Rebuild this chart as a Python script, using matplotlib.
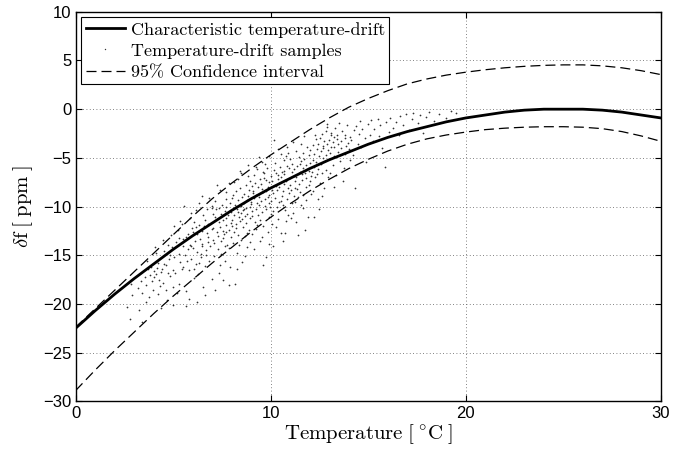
import matplotlib
matplotlib.use("Agg")
import matplotlib.pyplot as plt

plt.rcParams['mathtext.fontset'] = 'cm'
plt.rcParams['axes.unicode_minus'] = True

# values
temps = list(range(0, 31))
drift_fit = [-22.5, -20.7, -19.0, -17.4, -15.9, -14.4, -13.0, -11.7, -10.4, -9.2,
             -8.1, -7.1, -6.1, -5.2, -4.4, -3.6, -2.9, -2.3, -1.8, -1.3,
             -0.9, -0.6, -0.3, -0.1, 0.0, 0.0, 0.0, -0.1, -0.3, -0.6, -0.9]
ci_upper = [-22.4, -20.5, -18.6, -16.7, -14.8, -12.9, -11.0, -9.2, -7.6, -6.1,
            -4.7, -3.4, -2.1, -0.9, 0.2, 1.1, 1.9, 2.6, 3.1, 3.5,
            3.8, 4.05, 4.25, 4.4, 4.5, 4.55, 4.55, 4.45, 4.25, 3.95, 3.55]
ci_lower = [-28.9, -26.8, -24.8, -22.9, -21.0, -19.2, -17.5, -15.8, -14.2, -12.6,
            -11.1, -9.7, -8.4, -7.2, -6.1, -5.15, -4.3, -3.6, -3.05, -2.65,
            -2.35, -2.1, -1.95, -1.85, -1.8, -1.8, -1.85, -2.0, -2.3, -2.75, -3.3]

# sample cloud, (temperature, drift) pairs, grouped by temperature band
samples_2_4 = [(2.63,-20.3),(2.77,-21.5),(2.91,-19.1),(3.18,-18.4),(3.24,-20.6),(3.36,-17.6),(3.42,-18.9),
    (3.59,-19.8),(3.55,-17.2),(3.60,-18.1),(3.73,-16.4),(3.77,-19.3),(3.81,-17.0),(3.88,-16.2),(3.94,-17.6),
    (3.96,-18.6),(4.02,-16.6),(3.39,-21.9),(2.85,-18.0),(3.64,-15.6)]
samples_4_5 = [(4.03,-17.2),(4.17,-16.3),(4.11,-16.9),(4.28,-17.5),(4.24,-15.8),(4.36,-16.7),(4.32,-18.2),
    (4.49,-15.1),(4.45,-16.4),(4.50,-17.8),(4.53,-14.6),(4.67,-19.6),(4.61,-16.0),(4.78,-15.4),(4.74,-13.9),
    (4.86,-17.1),(4.82,-15.0),(4.99,-16.5),(4.95,-14.2),(5.00,-20.1),(4.23,-19.0),(4.47,-13.4),(4.61,-18.6),
    (4.88,-12.9),(4.14,-14.8),(4.36,-20.4),(4.72,-16.8),(4.99,-18.3),(4.55,-15.9),(4.06,-14.2)]
samples_5_6 = [(5.03,-15.2),(5.17,-13.6),(5.11,-16.8),(5.28,-14.9),(5.24,-12.4),(5.36,-15.7),(5.32,-17.9),
    (5.49,-14.1),(5.45,-11.8),(5.50,-16.2),(5.53,-13.3),(5.57,-9.9),(5.61,-15.0),(5.68,-18.7),(5.74,-14.4),
    (5.76,-12.8),(5.82,-16.5),(5.89,-13.9),(5.85,-11.2),(5.90,-15.4),(5.93,-14.0),(6.07,-17.3),(6.01,-12.6),
    (5.18,-18.9),(5.34,-11.5),(5.66,-20.2),(5.92,-10.7),(5.29,-13.2),(5.45,-16.4),(5.70,-15.6),(5.03,-12.0),
    (5.67,-13.1),(5.81,-19.5),(5.98,-12.2)]
samples_6_7 = [(6.04,-14.3),(6.06,-11.6),(6.12,-13.5),(6.19,-15.9),(6.15,-10.4),(6.20,-12.8),(6.23,-14.7),
    (6.27,-16.9),(6.31,-11.9),(6.38,-13.3),(6.34,-9.6),(6.46,-12.5),(6.42,-15.2),(6.49,-14.0),(6.55,-10.9),
    (6.50,-13.8),(6.53,-18.3),(6.57,-12.0),(6.61,-11.4),(6.68,-14.5),(6.64,-16.1),(6.76,-12.7),(6.72,-10.2),
    (6.79,-13.1),(6.85,-15.6),(6.80,-11.8),(6.83,-9.1),(6.97,-12.3),(6.91,-14.1),(6.98,-17.4),(7.04,-10.8),
    (7.06,-13.4),(6.22,-19.8),(6.49,-8.9),(6.65,-19.1),(6.80,-13.6),(6.33,-15.8),(6.17,-12.1),(6.71,-15.0),
    (6.98,-10.1),(6.44,-14.9),(6.06,-16.4)]
samples_7_8 = [(7.02,-12.2),(7.09,-15.1),(7.15,-11.1),(7.10,-13.7),(7.13,-9.4),(7.27,-12.6),(7.21,-10.3),
    (7.28,-14.4),(7.34,-11.6),(7.36,-16.8),(7.32,-13.0),(7.39,-8.3),(7.45,-10.8),(7.40,-12.1),(7.43,-14.9),
    (7.57,-11.4),(7.51,-9.8),(7.58,-13.2),(7.54,-17.5),(7.66,-10.5),(7.62,-12.8),(7.69,-11.9),(7.65,-15.6),
    (7.70,-9.2),(7.73,-11.2),(7.77,-13.9),(7.71,-10.0),(7.88,-12.4),(7.84,-14.3),(7.86,-7.6),(7.82,-10.9),
    (7.99,-11.7),(7.95,-13.1),(7.90,-9.6),(7.93,-16.2),(8.07,-10.3),(8.01,-12.0),(8.08,-8.8),(7.14,-18.6),
    (7.26,-7.8),(7.42,-16.0),(7.69,-8.5),(7.85,-18.1),(7.00,-9.9),(7.33,-10.1),(7.57,-12.5),(7.71,-12.6),
    (7.98,-10.6),(7.44,-13.5),(7.66,-14.1)]
samples_8_9 = [(8.02,-11.4),(8.09,-13.7),(8.15,-9.8),(8.10,-10.9),(8.13,-12.6),(8.17,-17.9),(8.21,-8.4),
    (8.28,-10.2),(8.24,-11.8),(8.26,-14.8),(8.32,-9.3),(8.39,-11.1),(8.35,-12.9),(8.30,-7.2),(8.33,-10.6),
    (8.47,-9.9),(8.41,-11.5),(8.48,-13.4),(8.44,-8.1),(8.56,-10.4),(8.52,-9.0),(8.59,-12.1),(8.55,-15.7),
    (8.50,-6.6),(8.63,-9.6),(8.67,-11.0),(8.61,-8.7),(8.68,-13.0),(8.74,-10.1),(8.76,-7.8),(8.72,-11.7),
    (8.79,-9.3),(8.85,-5.7),(8.80,-10.8),(8.83,-8.9),(8.87,-12.4),(8.81,-14.2),(8.98,-9.5),(8.94,-7.4),
    (8.96,-11.2),(8.92,-10.0),(9.09,-8.6),(9.05,-12.8),(9.00,-9.7),(8.13,-7.5),(8.27,-16.4),(8.41,-6.3),
    (8.68,-15.1),(8.84,-6.9),(8.36,-13.9),(8.52,-11.3),(8.79,-12.7),(8.95,-13.6),(8.00,-9.1),(8.23,-12.2),
    (8.47,-10.7),(8.61,-10.3),(8.88,-8.3)]
samples_9_10 = [(9.04,-10.5),(9.06,-7.9),(9.12,-9.1),(9.19,-11.6),(9.15,-6.8),(9.10,-8.4),(9.23,-10.2),
    (9.27,-12.3),(9.21,-7.6),(9.28,-9.6),(9.34,-8.0),(9.36,-10.9),(9.32,-6.1),(9.39,-9.0),(9.45,-11.4),
    (9.40,-8.7),(9.43,-7.2),(9.47,-13.5),(9.51,-9.4),(9.58,-5.4),(9.54,-8.2),(9.56,-10.6),(9.52,-7.7),
    (9.69,-9.9),(9.65,-6.6),(9.60,-12.0),(9.63,-8.5),(9.77,-7.3),(9.71,-9.2),(9.78,-10.3),(9.74,-15.2),
    (9.86,-8.0),(9.82,-6.0),(9.89,-11.1),(9.85,-9.0),(9.90,-7.5),(9.93,-8.8),(9.97,-10.0),(9.91,-4.8),
    (10.08,-8.3),(10.04,-6.9),(10.06,-11.8),(9.12,-14.4),(9.39,-4.9),(9.55,-13.1),(9.70,-5.6),(9.93,-13.8),
    (9.27,-8.8),(9.41,-9.8),(9.68,-7.1),(9.84,-12.6),(9.06,-11.0),(9.32,-11.9),(9.59,-6.4),(9.75,-8.4),
    (9.90,-9.6),(9.63,-16.0),(9.27,-5.9)]
samples_10_11 = [(10.01,-9.4),(10.08,-7.4),(10.14,-8.6),(10.16,-6.2),(10.12,-10.5),(10.19,-3.2),(10.25,-7.9),
    (10.20,-9.1),(10.23,-5.5),(10.27,-12.1),(10.31,-8.3),(10.38,-6.8),(10.34,-10.0),(10.36,-7.2),(10.42,-9.5),
    (10.49,-5.9),(10.45,-8.0),(10.40,-11.3),(10.53,-7.0),(10.57,-8.9),(10.51,-4.6),(10.58,-6.4),(10.54,-12.7),
    (10.66,-7.7),(10.62,-9.8),(10.69,-5.2),(10.65,-8.4),(10.70,-6.7),(10.73,-10.4),(10.77,-7.4),(10.71,-12.7),
    (10.88,-8.1),(10.84,-5.8),(10.86,-9.2),(10.82,-3.9),(10.99,-7.1),(10.95,-6.0),(10.90,-10.9),(10.93,-8.6),
    (11.07,-6.5),(11.01,-7.8),(11.08,-9.6),(10.14,-14.0),(10.36,-4.1),(10.62,-13.5),(10.89,-4.5),(10.25,-6.6),
    (10.43,-7.6),(10.67,-6.3),(10.81,-11.5),(10.98,-5.1),(10.04,-10.8),(10.52,-9.4),(10.79,-4.8)]
samples_11_12 = [(11.03,-8.3),(11.17,-6.9),(11.11,-5.6),(11.18,-8.9),(11.14,-10.7),(11.26,-7.4),(11.22,-6.1),
    (11.29,-4.3),(11.25,-9.5),(11.30,-7.0),(11.33,-5.8),(11.37,-8.2),(11.31,-11.6),(11.48,-6.4),(11.44,-4.9),
    (11.46,-7.7),(11.42,-9.0),(11.59,-6.7),(11.55,-5.3),(11.50,-8.5),(11.53,-3.6),(11.67,-6.0),(11.61,-7.3),
    (11.68,-10.1),(11.64,-4.5),(11.76,-6.6),(11.72,-5.1),(11.79,-8.0),(11.75,-12.4),(11.80,-5.7),(11.83,-7.1),
    (11.87,-3.9),(11.81,-9.3),(11.98,-6.3),(11.94,-4.7),(11.96,-7.8),(12.02,-5.5),(12.09,-6.9),(12.05,-8.7),
    (11.12,-3.4),(11.38,-12.9),(11.54,-9.8),(11.71,-2.8),(11.93,-11.1),(11.27,-8.1),(11.49,-5.6),(11.65,-8.8),
    (11.80,-6.2),(12.03,-4.2),(11.06,-11.2)]
samples_12_13 = [(12.04,-7.4),(12.16,-5.2),(12.12,-6.4),(12.19,-3.7),(12.15,-8.4),(12.20,-4.6),(12.23,-5.9),
    (12.27,-7.0),(12.21,-11.1),(12.38,-4.1),(12.34,-5.4),(12.36,-6.7),(12.32,-3.1),(12.49,-4.8),(12.45,-3.6),
    (12.40,-6.1),(12.43,-9.2),(12.57,-4.3),(12.51,-3.0),(12.58,-5.6),(12.54,-7.6),(12.66,-3.8),(12.62,-2.5),
    (12.69,-5.0),(12.65,-6.6),(12.70,-4.0),(12.73,-3.3),(12.77,-5.3),(12.71,-8.1),(12.88,-3.6),(12.84,-2.2),
    (12.86,-4.7),(12.82,-6.2),(12.99,-3.2),(12.95,-4.2),(12.90,-1.8),(12.93,-7.0),(13.07,-3.9),(13.01,-5.1),
    (13.08,-2.7),(12.26,-2.6),(12.47,-10.2),(12.61,-8.9),(12.88,-1.5),(13.04,-6.6)]
samples_13_14 = [(13.03,-4.5),(13.17,-3.4),(13.11,-2.4),(13.18,-5.7),(13.24,-3.9),(13.26,-2.9),(13.22,-4.8),
    (13.39,-3.1),(13.35,-6.8),(13.30,-1.9),(13.43,-3.6),(13.47,-4.4),(13.41,-2.6),(13.58,-3.3),(13.54,-5.3),
    (13.66,-2.2),(13.62,-4.0),(13.79,-3.0),(13.75,-6.0),(13.80,-2.7),(13.83,-4.6),(13.97,-3.5),(13.91,-1.6),
    (14.08,-2.9),(14.04,-5.2),(13.26,-8.0),(13.52,-1.4),(13.69,-7.4),(13.85,-3.8),(14.02,-4.1)]
samples_14_16 = [(14.13,-3.2),(14.27,-2.1),(14.21,-4.7),(14.38,-1.7),(14.34,-8.1),(14.46,-3.6),(14.52,-2.5),
    (14.59,-1.2),(14.65,-3.9),(14.70,-2.0),(14.83,-3.0),(14.97,-1.5),(14.91,-5.4),(15.08,-2.6),(15.14,-1.1),
    (15.26,-3.3),(15.32,-2.0),(15.49,-1.0),(15.55,-2.8),(15.60,-1.6),(15.73,-4.0),(15.87,-5.9),(15.91,-1.3),
    (16.08,-2.3)]
samples_16_20 = [(16.13,-0.9),(16.27,-1.9),(16.41,-1.3),(16.58,-2.7),(16.64,-0.7),(16.76,-1.6),(16.92,-0.5),
    (17.09,-2.1),(17.25,-1.0),(17.30,-0.4),(17.53,-1.4),(17.67,-0.6),(17.81,-2.4),(17.98,-0.8),(18.14,-0.3),
    (18.36,-1.2),(18.62,-0.5),(18.99,-0.9),(19.25,-0.2),(19.50,-0.4)]

samples = (samples_2_4 + samples_4_5 + samples_5_6 + samples_6_7 + samples_7_8 + samples_8_9
           + samples_9_10 + samples_10_11 + samples_11_12 + samples_12_13 + samples_13_14
           + samples_14_16 + samples_16_20)
sample_t = [p[0] for p in samples]
sample_df = [p[1] for p in samples]

serif = ['cmr10', 'DejaVu Serif']
sans = ['Liberation Sans', 'DejaVu Sans']

fig = plt.figure(figsize=(6.87, 4.54), dpi=100)
ax = fig.add_axes([0.110, 0.116, 0.852, 0.858])

ax.plot(temps, drift_fit, color='k', lw=2.0, label='Characteristic temperature-drift', zorder=3)
ax.plot(sample_t, sample_df, '.', color='0.2', markersize=2.5, markeredgewidth=0,
        label='Temperature-drift samples', zorder=2)
ax.plot(temps, ci_upper, color='k', lw=0.9, dashes=(8, 4), label='95% Confidence interval', zorder=3)
ax.plot(temps, ci_lower, color='k', lw=0.9, dashes=(8, 4), zorder=3)

ax.set_xlim(0, 30)
ax.set_ylim(-30, 10)
ax.set_xticks([0, 10, 20, 30])
ax.set_yticks(range(-30, 11, 5))
ax.grid(True, color='0.35', linestyle=(0, (1, 3)), linewidth=0.6)
ax.tick_params(direction='in', top=True, right=True, length=4, width=0.8,
               labelsize=12, labelfontfamily=sans, pad=3)
for s in ax.spines.values():
    s.set_linewidth(1.0)

ax.set_xlabel(r'Temperature$\;[\;^{\circ}$C$\;]$', fontsize=15, family=serif, labelpad=1)
ax.set_ylabel(r'$\delta$f$\;[\;$ppm$\;]$', fontsize=15, family=serif, labelpad=6)

leg = ax.legend(loc='upper left', prop={'family': serif, 'size': 13},
                fancybox=False, framealpha=1, edgecolor='k', borderaxespad=0.3,
                handlelength=2.2, handletextpad=0.3, labelspacing=0.3, borderpad=0.25,
                markerscale=0.8)
leg.get_frame().set_linewidth(0.8)

fig.savefig('out.png', dpi=100)
